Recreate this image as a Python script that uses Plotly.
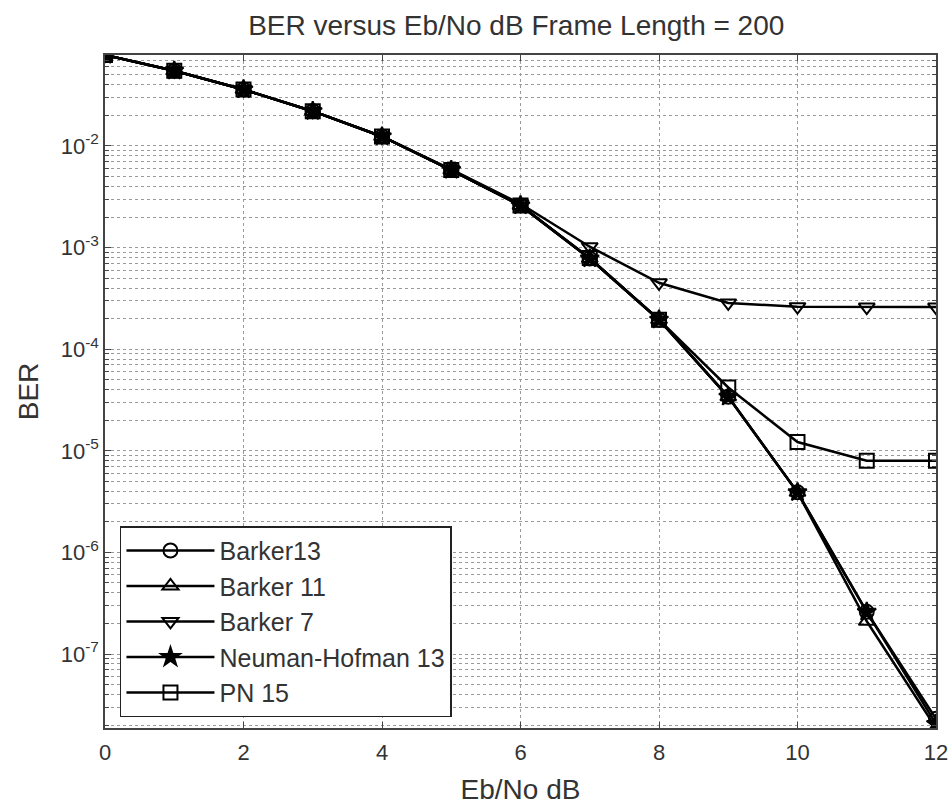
import numpy as np
import plotly.graph_objects as go

ebno = list(range(0, 13))
barker13 = [0.0786, 0.055, 0.036, 0.022, 0.0124, 0.0058, 0.0026, 7.8e-4, 1.95e-4, 3.4e-5, 3.9e-6, 2.6e-7, 2.3e-8]
barker11 = [0.0786, 0.055, 0.036, 0.022, 0.0124, 0.0058, 0.0026, 7.8e-4, 1.95e-4, 3.4e-5, 3.9e-6, 2.1e-7, 1.87e-8]
barker7 = [0.0786, 0.055, 0.036, 0.022, 0.0124, 0.0059, 0.0027, 1.02e-3, 4.5e-4, 2.85e-4, 2.62e-4, 2.6e-4, 2.6e-4]
neuman13 = [0.0786, 0.055, 0.036, 0.022, 0.0124, 0.0058, 0.0026, 7.8e-4, 1.95e-4, 3.4e-5, 3.9e-6, 2.6e-7, 2.05e-8]
pn15 = [0.0786, 0.055, 0.036, 0.022, 0.0124, 0.0058, 0.0026, 7.9e-4, 1.95e-4, 4.2e-5, 1.22e-5, 8.0e-6, 8.0e-6]

series = [
    ("Barker13", barker13, "circle-open"),
    ("Barker 11", barker11, "triangle-up-open"),
    ("Barker 7", barker7, "triangle-down-open"),
    ("Neuman-Hofman 13", neuman13, "star"),
    ("PN 15", pn15, "square-open"),
]

x_ticks = [0, 2, 4, 6, 8, 10, 12]
decades = [-7, -6, -5, -4, -3, -2]

fig = go.Figure()
for name, vals, sym in series:
    fig.add_trace(go.Scatter(
        x=ebno, y=vals, name=name, mode="lines+markers",
        line=dict(color="black", width=2.5),
        marker=dict(symbol=sym, size=14, color="black",
                    line=dict(color="black", width=2)),
    ))

all_vals = barker13 + barker11 + barker7 + neuman13 + pn15
ymin, ymax = np.log10(min(all_vals)), np.log10(max(all_vals))

minor_vals = [m * 10.0 ** d for d in range(-8, 0) for m in range(2, 10)]

textc = "#333333"
gridc = "#9a9a9a"
fnt = "Liberation Sans, Arial, sans-serif"

fig.update_layout(
    width=949, height=805,
    paper_bgcolor="white", plot_bgcolor="white",
    margin=dict(l=105, r=13, t=55, b=77),
    font=dict(family=fnt, size=22, color=textc),
    title=dict(text="BER versus Eb/No dB Frame Length = 200", x=0.544, xanchor="center",
               y=0.969, yanchor="middle", font=dict(size=28, color=textc)),
    showlegend=True,
    legend=dict(x=0.018, y=0.016, xanchor="left", yanchor="bottom",
                bgcolor="white", bordercolor="#222222", borderwidth=1.5,
                font=dict(size=25, color=textc), itemwidth=88,
                tracegroupgap=0),
)
fig.update_xaxes(
    range=[0, 12], tickvals=x_ticks, ticktext=[str(v) for v in x_ticks],
    automargin=False,
    showline=True, linecolor="#444444", linewidth=1.5, mirror="ticks",
    ticks="inside", ticklen=6, tickcolor="#444444",
    showgrid=True, gridcolor=gridc, griddash="dot", gridwidth=1,
    zeroline=False, ticklabelstandoff=4,
    title=dict(text="Eb/No dB", font=dict(size=28, color=textc), standoff=24),
    tickfont=dict(size=22, color=textc),
)
fig.update_yaxes(
    type="log", range=[ymin, ymax],
    automargin=False,
    tickvals=[10.0 ** d for d in decades],
    ticktext=["10<sup>%d</sup>" % d for d in decades],
    showline=True, linecolor="#444444", linewidth=1.5, mirror="ticks",
    ticks="inside", ticklen=6, tickcolor="#444444",
    showgrid=True, gridcolor=gridc, griddash="dot", gridwidth=1,
    minor=dict(tickvals=minor_vals, showgrid=True, gridcolor=gridc,
               griddash="dot", gridwidth=1, ticks="inside", ticklen=4,
               tickcolor="#444444"),
    zeroline=False,
    title=dict(text="BER", font=dict(size=28, color=textc), standoff=14),
    tickfont=dict(size=22, color=textc),
)

fig.write_html("out.html", config={"displayModeBar": False},
               post_script="document.body.style.margin='0';document.body.style.overflow='hidden';")
